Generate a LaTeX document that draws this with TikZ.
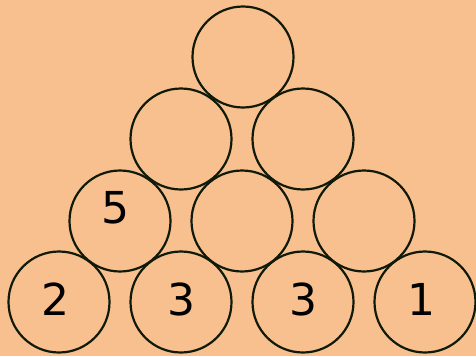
\documentclass[tikz,border=0pt]{standalone}
\usepackage{fontspec}
\setmainfont{DejaVu Sans}
\definecolor{bgpeach}{HTML}{F8C08F}
\definecolor{ringline}{HTML}{101A08}
\tikzset{
  ball/.style={circle, draw=ringline, line width=2.2pt, fill=bgpeach, minimum size=101pt, inner sep=0pt},
  num/.style={font=\fontsize{44}{44}\selectfont, text=black, inner sep=0pt}
}
\begin{document}
\begin{tikzpicture}[x=1pt,y=-1pt]
\fill[bgpeach] (0,0) rectangle (476,356);
\useasboundingbox (0,0) rectangle (476,356);
% bottom row
\node[ball] (b1) at (59,302) {};
\node[ball] (b2) at (181,302) {};
\node[ball] (b3) at (303,302) {};
\node[ball] (b4) at (425,302) {};
% second row
\node[ball] (c1) at (120,221) {};
\node[ball] (c2) at (242,221) {};
\node[ball] (c3) at (364,221) {};
% third row
\node[ball] (d1) at (181,139) {};
\node[ball] (d2) at (303,139) {};
% top
\node[ball] (e1) at (243,57) {};
% numbers
\node[num] (n2) at (55,299) {2};
\node[num] (n3a) at (181,299) {3};
\node[num] (n3b) at (303,299) {3};
\node[num] (n1) at (421,299) {1};
\node[num] (n5) at (115,208) {5};
\end{tikzpicture}
\end{document}
